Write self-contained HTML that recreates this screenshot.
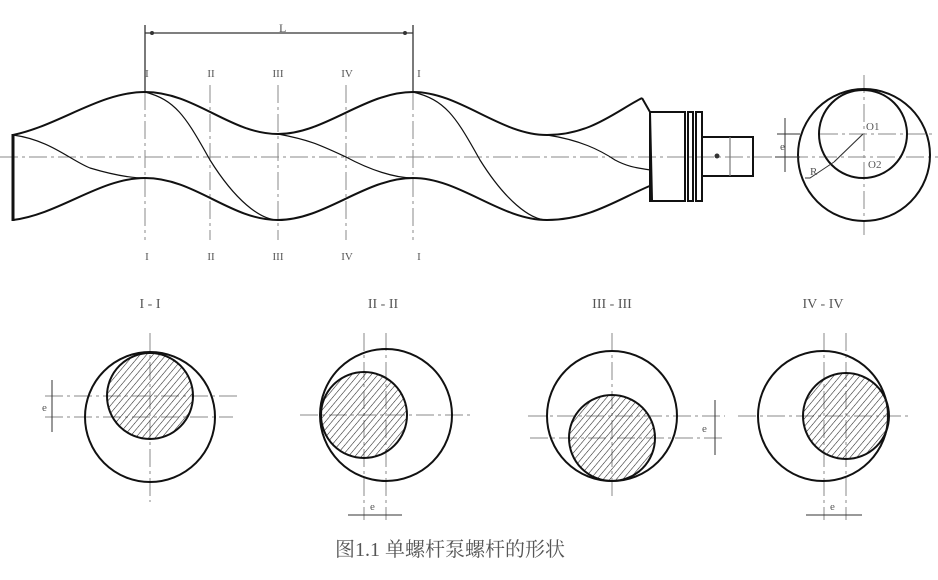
<!DOCTYPE html>
<html><head><meta charset="utf-8"><style>
html,body{margin:0;padding:0;background:#fff;}
svg{display:block;}
text{font-family:"Liberation Serif","Noto Serif CJK SC",serif;fill:#555;}
</style></head><body>
<svg width="938" height="580" viewBox="0 0 938 580" xmlns="http://www.w3.org/2000/svg">
<defs>
<pattern id="h" width="5" height="5" patternUnits="userSpaceOnUse" patternTransform="rotate(40)">
<line x1="0" y1="0" x2="0" y2="5" stroke="#222" stroke-width="1.1"/>
</pattern>
</defs>
<g stroke="#888" stroke-width="1" fill="none" stroke-dasharray="18,4,3,4">
<line x1="0" y1="157" x2="780" y2="157"/>
<line x1="145" y1="92" x2="145" y2="240"/>
<line x1="210" y1="85" x2="210" y2="240"/>
<line x1="278" y1="85" x2="278" y2="240"/>
<line x1="346" y1="85" x2="346" y2="240"/>
<line x1="413" y1="92" x2="413" y2="240"/>
<line x1="790" y1="157" x2="938" y2="157"/>
<line x1="820" y1="134" x2="935" y2="134"/>
<line x1="864" y1="75" x2="864" y2="235"/>
</g>
<g stroke="#333" stroke-width="1.3">
<line x1="145" y1="25" x2="145" y2="92"/>
<line x1="413" y1="25" x2="413" y2="92"/>
<line x1="145" y1="33" x2="413" y2="33"/>
</g>
<text x="279" y="32" font-size="12">L</text>
<circle cx="152" cy="33" r="2" fill="#333"/><circle cx="405" cy="33" r="2" fill="#333"/>
<g font-size="11" text-anchor="middle">
<text x="147" y="77">I</text><text x="211" y="77">II</text><text x="278" y="77">III</text><text x="347" y="77">IV</text><text x="419" y="77">I</text>
<text x="147" y="260">I</text><text x="211" y="260">II</text><text x="278" y="260">III</text><text x="347" y="260">IV</text><text x="419" y="260">I</text>
</g>
<g stroke="#111" fill="none" stroke-width="2">
<path d="M13,135 C60,125 100,92 145,92 C195,92 230,134 278,134 C325,134 365,92 413,92 C460,92 500,135 547,135 C590,135 615,112 642,98"/>
<path d="M13,220 C60,214 100,178 145,178 C195,178 230,220 278,220 C325,220 365,178 413,178 C460,178 500,220 547,220 C590,220 620,198 652,185"/>
<line x1="13" y1="134" x2="13" y2="221" stroke-width="3"/>
<path d="M642,98 L650,112 L652,200"/>
<rect x="650" y="112" width="35" height="89" stroke-width="2"/>
<rect x="688" y="112" width="5" height="89" stroke-width="2"/>
<rect x="696" y="112" width="6" height="89" stroke-width="2"/>
<path d="M703,137 L753,137 L753,176 L703,176"/>
</g>
<g stroke="#111" fill="none" stroke-width="1.2">
<path d="M13,135 C50,140 70,160 90,168 C110,174 130,178 145,178"/>
<path d="M145,92 C175,100 185,115 210,160 C235,200 260,220 278,220"/>
<path d="M278,134 C310,140 320,145 346,157 C370,170 395,178 413,178"/>
<path d="M413,92 C445,100 455,115 480,160 C505,200 530,220 547,220"/>
<path d="M547,135 C580,140 600,150 615,160 C630,168 640,168 650,170"/>
<line x1="730" y1="137" x2="730" y2="176" stroke="#777"/>
</g>
<circle cx="717" cy="156" r="2.5" fill="#333"/>
<circle cx="864" cy="155" r="66" fill="none" stroke="#111" stroke-width="2"/>
<circle cx="863" cy="134" r="44" fill="none" stroke="#111" stroke-width="2"/>
<line x1="863" y1="134" x2="834" y2="162" stroke="#333" stroke-width="1.2"/>
<path d="M834,162 L810,178 L805,178" stroke="#333" fill="none"/>
<text x="810" y="175" font-size="11">R</text>
<text x="866" y="130" font-size="11">O1</text>
<text x="868" y="168" font-size="11">O2</text>
<g stroke="#333" stroke-width="1"><line x1="777" y1="134" x2="800" y2="134"/><line x1="785" y1="118" x2="785" y2="172"/><line x1="775" y1="157" x2="800" y2="157"/></g>
<text x="780" y="150" font-size="11">e</text>
<g stroke="#888" stroke-width="1" fill="none" stroke-dasharray="18,4,3,4">
<line x1="150" y1="333" x2="150" y2="502"/><line x1="45" y1="396" x2="240" y2="396"/><line x1="45" y1="417" x2="233" y2="417"/>
<line x1="364" y1="333" x2="364" y2="520"/><line x1="386" y1="333" x2="386" y2="520"/><line x1="300" y1="415" x2="470" y2="415"/>
<line x1="612" y1="333" x2="612" y2="500"/><line x1="528" y1="416" x2="725" y2="416"/><line x1="530" y1="438" x2="725" y2="438"/>
<line x1="824" y1="333" x2="824" y2="520"/><line x1="846" y1="333" x2="846" y2="520"/><line x1="738" y1="416" x2="908" y2="416"/>
</g>
<g stroke="#111" stroke-width="2">
<circle cx="150" cy="396" r="43" fill="url(#h)"/><circle cx="150" cy="417" r="65" fill="none"/>
<circle cx="364" cy="415" r="43" fill="url(#h)"/><circle cx="386" cy="415" r="66" fill="none"/>
<circle cx="612" cy="438" r="43" fill="url(#h)"/><circle cx="612" cy="416" r="65" fill="none"/>
<circle cx="846" cy="416" r="43" fill="url(#h)"/><circle cx="823" cy="416" r="65" fill="none"/>
</g>
<g stroke="#333" stroke-width="1">
<line x1="52" y1="380" x2="52" y2="432"/><line x1="715" y1="400" x2="715" y2="455"/>
<line x1="348" y1="515" x2="402" y2="515"/><line x1="806" y1="515" x2="862" y2="515"/>
</g>
<g font-size="11"><text x="42" y="411">e</text><text x="702" y="432">e</text><text x="370" y="510">e</text><text x="830" y="510">e</text></g>
<g font-size="14" text-anchor="middle">
<text x="150" y="308">I - I</text><text x="383" y="308">II - II</text><text x="612" y="308">III - III</text><text x="823" y="308">IV - IV</text>
</g>
<text x="335" y="556" font-size="20" fill="#666">图1.1 单螺杆泵螺杆的形状</text>
</svg>
</body></html>
